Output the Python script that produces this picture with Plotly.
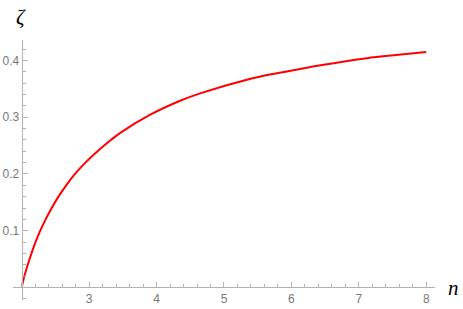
import plotly.graph_objects as go

# values
n_vals = [2.0, 2.04, 2.09, 2.145, 2.205, 2.275, 2.355, 2.445, 2.545, 2.66, 2.79,
          2.945, 3.125, 3.335, 3.457, 3.9, 4.35, 4.646, 5.34, 5.7, 6.13, 6.43,
          7.12, 7.55, 8.0]
zeta_vals = [0.0, 0.02, 0.04, 0.06, 0.08, 0.10, 0.12, 0.14, 0.16, 0.18, 0.20,
             0.22, 0.24, 0.261, 0.272, 0.304, 0.329, 0.342, 0.366, 0.3755,
             0.385, 0.3915, 0.404, 0.4095, 0.4147]

x_ticks = [3, 4, 5, 6, 7, 8]
y_ticks = [0.1, 0.2, 0.3, 0.4]

x_range = [1.871, 8.13]
y_range = [-0.0221, 0.436]

axis_color = '#b3b3b3'
label_font = dict(family='Liberation Sans', size=12, color='#777777')

fig = go.Figure()
fig.add_trace(go.Scatter(
    x=n_vals, y=zeta_vals, mode='lines',
    line=dict(color='#ff0000', width=2, shape='spline', smoothing=0.8),
    hoverinfo='skip', showlegend=False
))

# axes cross at (2, 0), like Mathematica's AxesOrigin
x_pos = (0 - y_range[0]) / (y_range[1] - y_range[0])
y_pos = (2 - x_range[0]) / (x_range[1] - x_range[0])

fig.update_layout(
    width=463, height=309,
    margin=dict(l=13, r=28, t=40, b=9),
    plot_bgcolor='white', paper_bgcolor='white',
    xaxis=dict(
        range=x_range, showgrid=False, zeroline=False,
        showline=True, linecolor=axis_color, linewidth=1,
        anchor='free', position=x_pos,
        tickvals=x_ticks, ticks='inside', ticklen=5, tickcolor=axis_color,
        tickfont=label_font, automargin=False,
        minor=dict(dtick=0.2, tick0=0, ticks='inside', ticklen=3,
                   tickcolor=axis_color, showgrid=False),
    ),
    yaxis=dict(
        range=y_range, showgrid=False, zeroline=False,
        showline=True, linecolor=axis_color, linewidth=1,
        anchor='free', position=y_pos,
        tickvals=y_ticks, ticks='inside', ticklen=5, tickcolor=axis_color,
        tickfont=label_font, automargin=False,
        minor=dict(dtick=0.02, tick0=0, ticks='inside', ticklen=3,
                   tickcolor=axis_color, showgrid=False),
    ),
    annotations=[
        dict(text='ζ', xref='paper', yref='paper', x=0.019, y=1.088,
             xanchor='center', yanchor='middle', showarrow=False,
             font=dict(family='Liberation Serif', size=21, color='black', style='italic')),
        dict(text='n', xref='paper', yref='paper', x=1.043, y=0.046,
             xanchor='center', yanchor='middle', showarrow=False,
             font=dict(family='Liberation Serif', size=21, color='black', style='italic')),
    ],
)

# drop the default 8px body margin so the figure fills the window
fig.write_html('out.html',
               config={'displayModeBar': False},
               post_script="document.body.style.margin='0';"
                           "document.body.style.overflow='hidden';")
